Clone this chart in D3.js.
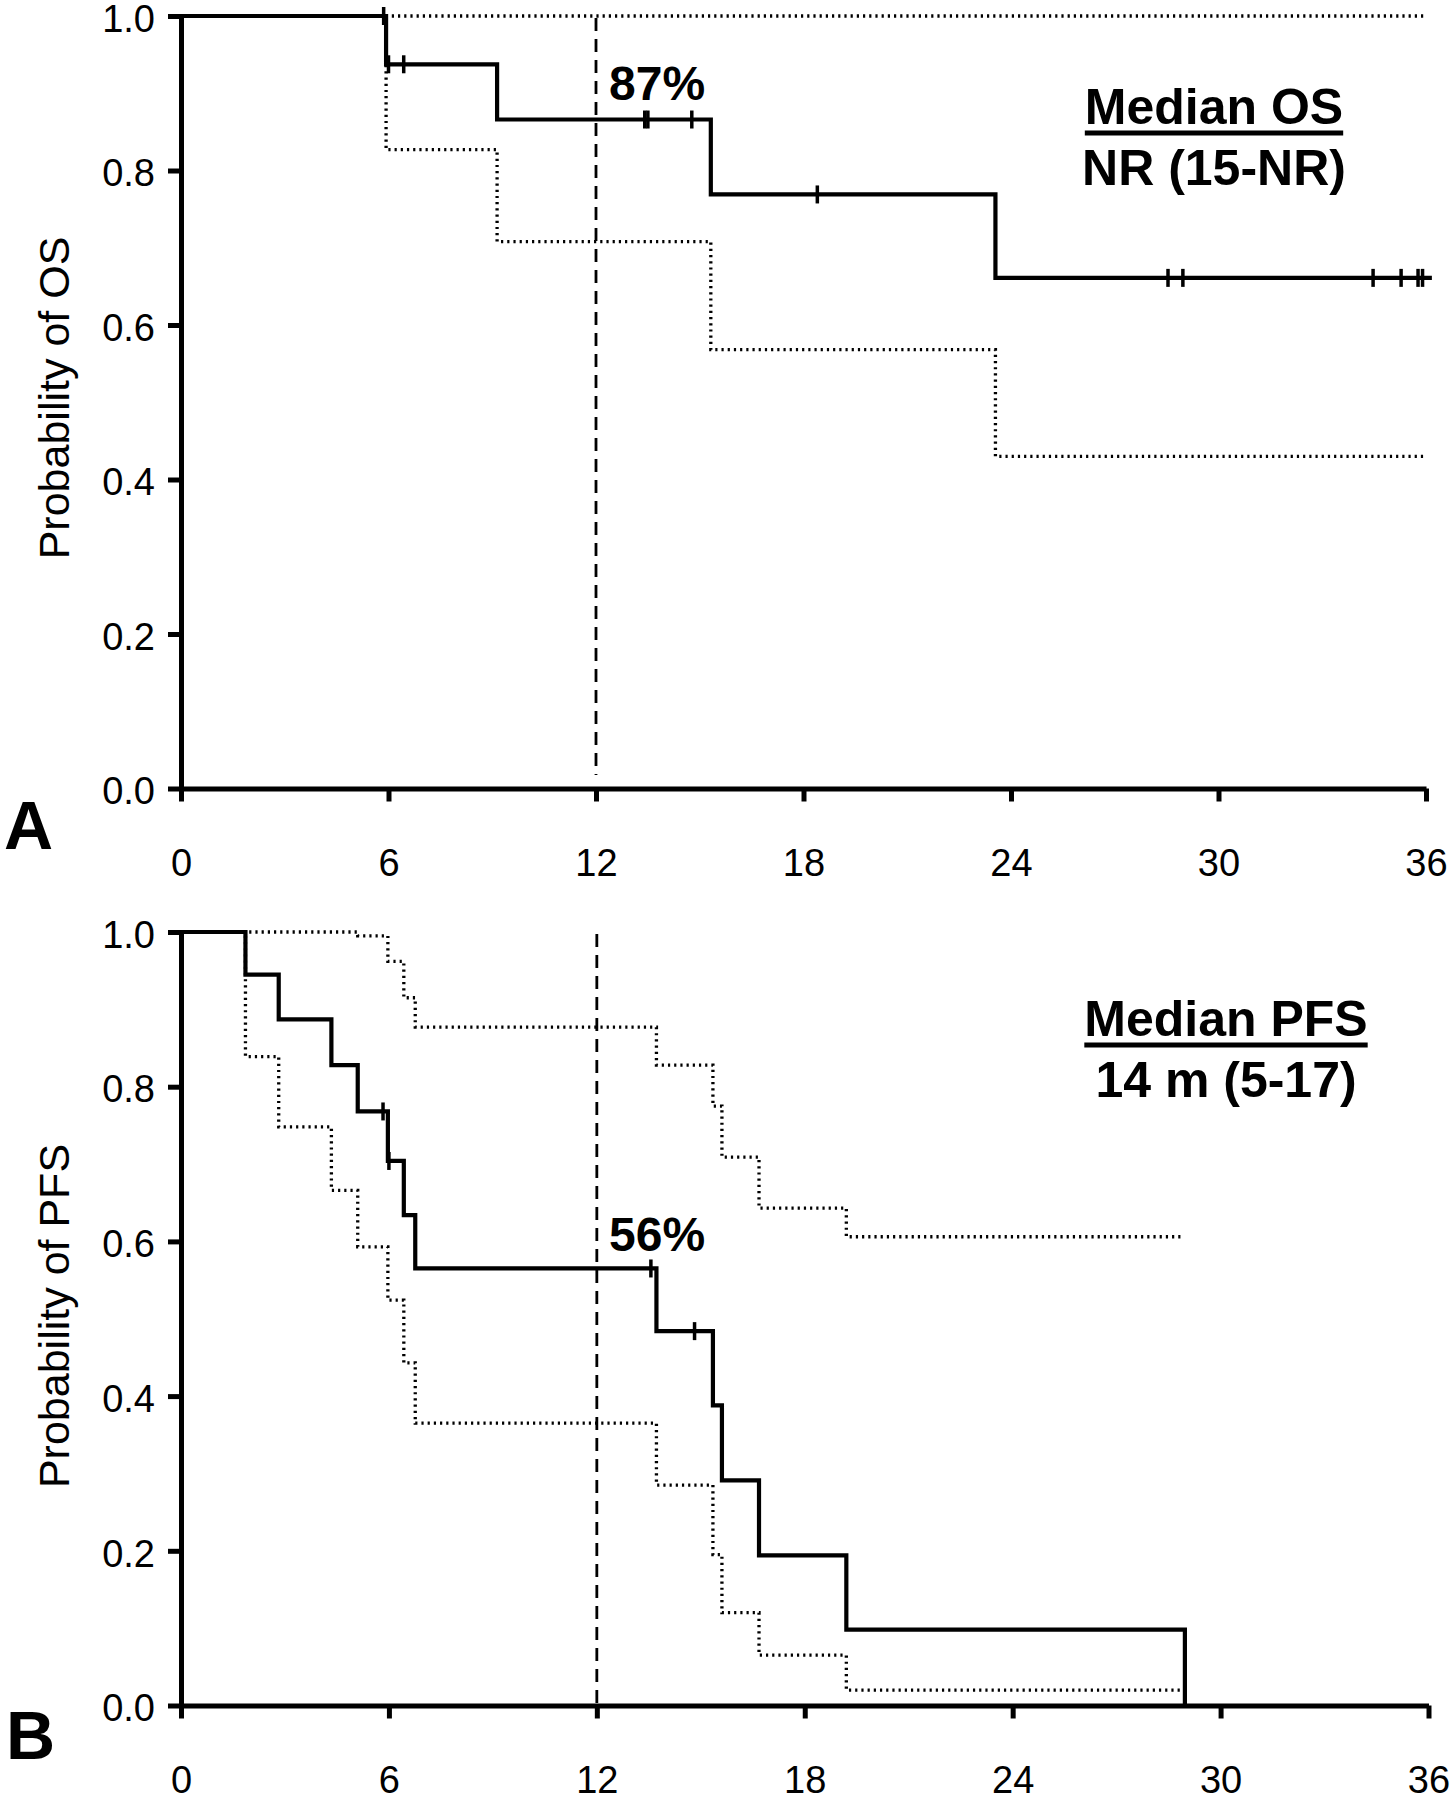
<!DOCTYPE html>
<html>
<head>
<meta charset="utf-8">
<script src="https://cdn.jsdelivr.net/npm/d3@7"></script>
<style>
  body { margin: 0; background: #fff; }
  text { font-family: "Liberation Sans", Arial, sans-serif; fill: #000; }
</style>
</head>
<body>
<div id="chart"></div>
<script>
//tick values shared by both panels
const monthTicks = [0, 6, 12, 18, 24, 30, 36];
const probTicks = [0, 0.2, 0.4, 0.6, 0.8, 1.0];

//A : overall survival (step times in months, KM estimate, 95% CI)
const osTimes = [0, 5.93, 9.14, 15.32, 23.55];
const osSurv = [1.0, 0.9375, 0.866, 0.769, 0.661];
const osLower = [1.0, 0.827, 0.708, 0.568, 0.43];
const osUpper = [1.0, 1.0, 1.0, 1.0, 1.0];
const osCensored = [5.86, 6.0, 6.44, 13.41, 13.5, 14.77, 18.4, 28.54, 28.97, 34.47, 35.28, 35.77, 35.9];
const osLastTime = 36.17;
const osCiLastTime = 35.95;

//B : progression free survival
const pfsTimes = [0, 1.86, 2.82, 4.34, 5.1, 5.97, 6.43, 6.76, 13.72, 15.35, 15.61, 16.68, 19.2, 28.97];
const pfsSurv = [1.0, 0.945, 0.887, 0.828, 0.768, 0.704, 0.634, 0.565, 0.484, 0.388, 0.291, 0.194, 0.098, 0];
const pfsLower = [1.0, 0.839, 0.748, 0.666, 0.593, 0.524, 0.443, 0.365, 0.285, 0.195, 0.12, 0.065, 0.02];
const pfsUpper = [1.0, 1.0, 1.0, 1.0, 0.995, 0.962, 0.915, 0.877, 0.828, 0.775, 0.709, 0.643, 0.606];
const pfsCensored = [5.83, 6.0, 13.56, 14.82];
const pfsLastTime = 28.97;
const pfsCiLastTime = 28.9;

const w = 1454;
const h = 1800;

const svg = d3.select("#chart").
append("svg").
attr("width", w).
attr("height", h);

svg.append("rect").attr("width", w).attr("height", h).attr("fill", "#fff");

//turn times + values into points for a step line
function steps(times, vals, end) {
  let pts = vals.map((v, i) => [times[i], v]);
  pts.push([end, vals[vals.length - 1]]);
  return pts;
}

function drawPanel(p) {
  const x = d3.scaleLinear().domain([0, 36]).range([181, p.right]);
  const y = d3.scaleLinear().domain([0, 1]).range([p.bottom, p.top]);
  const g = svg.append("g");

  const stepLine = d3.line().
  x(d => x(d[0])).
  y(d => y(d[1])).
  curve(d3.curveStepAfter);

  //dashed line at 12 months
  g.append("line").
  attr("x1", x(12)).
  attr("x2", x(12)).
  attr("y1", y(1) + 2).
  attr("y2", p.dashEnd).
  attr("stroke", "#000").
  attr("stroke-width", 2.8).
  attr("stroke-dasharray", "13,8");

  //confidence interval, dotted
  [p.lower, p.upper].forEach(ci => {
    g.append("path").
    datum(steps(p.times, ci, p.ciEnd)).
    attr("d", stepLine).
    attr("fill", "none").
    attr("stroke", "#000").
    attr("stroke-width", 3.3).
    attr("stroke-dasharray", "2.2,4");
  });

  //axes
  const yAxis = d3.axisLeft(y).
  tickValues(probTicks).
  tickFormat(d3.format(".1f")).
  tickSize(13).
  tickPadding(13).
  tickSizeOuter(0);

  const xAxis = d3.axisBottom(x).
  tickValues(monthTicks).
  tickFormat(d3.format("d")).
  tickSize(13).
  tickPadding(48).
  tickSizeOuter(0);

  const ya = g.append("g").
  attr("transform", "translate(" + x(0) + ",0)").
  call(yAxis);

  const xa = g.append("g").
  attr("transform", "translate(0," + y(0) + ")").
  call(xAxis);

  [ya, xa].forEach(a => {
    a.select(".domain").attr("stroke-width", 5).attr("stroke", "#000");
    a.selectAll(".tick line").attr("stroke-width", 5).attr("stroke", "#000");
    a.selectAll(".tick text").
    attr("font-size", 38).
    attr("font-family", "Liberation Sans, Arial, sans-serif").
    attr("fill", "#000");
  });
  //labels sit a little under their ticks in the original
  ya.selectAll(".tick text").attr("dy", "0.4em");

  //KM estimate, solid
  g.append("path").
  datum(steps(p.times, p.surv, p.lastTime)).
  attr("d", stepLine).
  attr("fill", "none").
  attr("stroke", "#000").
  attr("stroke-width", 4.2);

  //censor marks
  g.selectAll(".censor").
  data(p.censored).
  enter().
  append("line").
  attr("class", "censor").
  attr("x1", d => x(d)).
  attr("x2", d => x(d)).
  attr("y1", d => y(p.surv[d3.bisectRight(p.times, d) - 1]) - 9).
  attr("y2", d => y(p.surv[d3.bisectRight(p.times, d) - 1]) + 9).
  attr("stroke", "#000").
  attr("stroke-width", 3.5);

  //y axis title
  g.append("text").
  attr("transform", "translate(69," + p.titleY + ") rotate(-90)").
  attr("text-anchor", "middle").
  attr("font-size", 43).
  text(p.title);

  //percentage at 12 months
  g.append("text").
  attr("x", 609).
  attr("y", p.pctY).
  attr("font-size", 48).
  attr("font-weight", "bold").
  text(p.pct);

  //median box
  const head = g.append("text").
  attr("x", p.medX).
  attr("y", p.medY).
  attr("text-anchor", "middle").
  attr("font-size", 50).
  attr("font-weight", "bold").
  text(p.medHead);

  const len = head.node().getComputedTextLength();
  g.append("line").
  attr("x1", p.medX - len / 2).
  attr("x2", p.medX + len / 2).
  attr("y1", p.medY + 9).
  attr("y2", p.medY + 9).
  attr("stroke", "#000").
  attr("stroke-width", 5);

  g.append("text").
  attr("x", p.medX).
  attr("y", p.medY + 61).
  attr("text-anchor", "middle").
  attr("font-size", 50).
  attr("font-weight", "bold").
  text(p.medValue);

  //panel letter
  g.append("text").
  attr("x", p.letterX).
  attr("y", p.letterY).
  attr("font-size", 68).
  attr("font-weight", "bold").
  text(p.letter);
}

drawPanel({
  top: 16, bottom: 788.5, right: 1426, dashEnd: 775,
  times: osTimes, surv: osSurv, lower: osLower, upper: osUpper,
  censored: osCensored, lastTime: osLastTime, ciEnd: osCiLastTime,
  title: "Probability of OS", titleY: 398,
  pct: "87%", pctY: 100,
  medHead: "Median OS", medValue: "NR (15-NR)", medX: 1214, medY: 124,
  letter: "A", letterX: 4, letterY: 849
});

drawPanel({
  top: 932, bottom: 1705.5, right: 1428.5, dashEnd: 1705,
  times: pfsTimes, surv: pfsSurv, lower: pfsLower, upper: pfsUpper,
  censored: pfsCensored, lastTime: pfsLastTime, ciEnd: pfsCiLastTime,
  title: "Probability of PFS", titleY: 1316,
  pct: "56%", pctY: 1251,
  medHead: "Median PFS", medValue: "14 m (5-17)", medX: 1226, medY: 1036,
  letter: "B", letterX: 6, letterY: 1759
});
</script>
</body>
</html>
